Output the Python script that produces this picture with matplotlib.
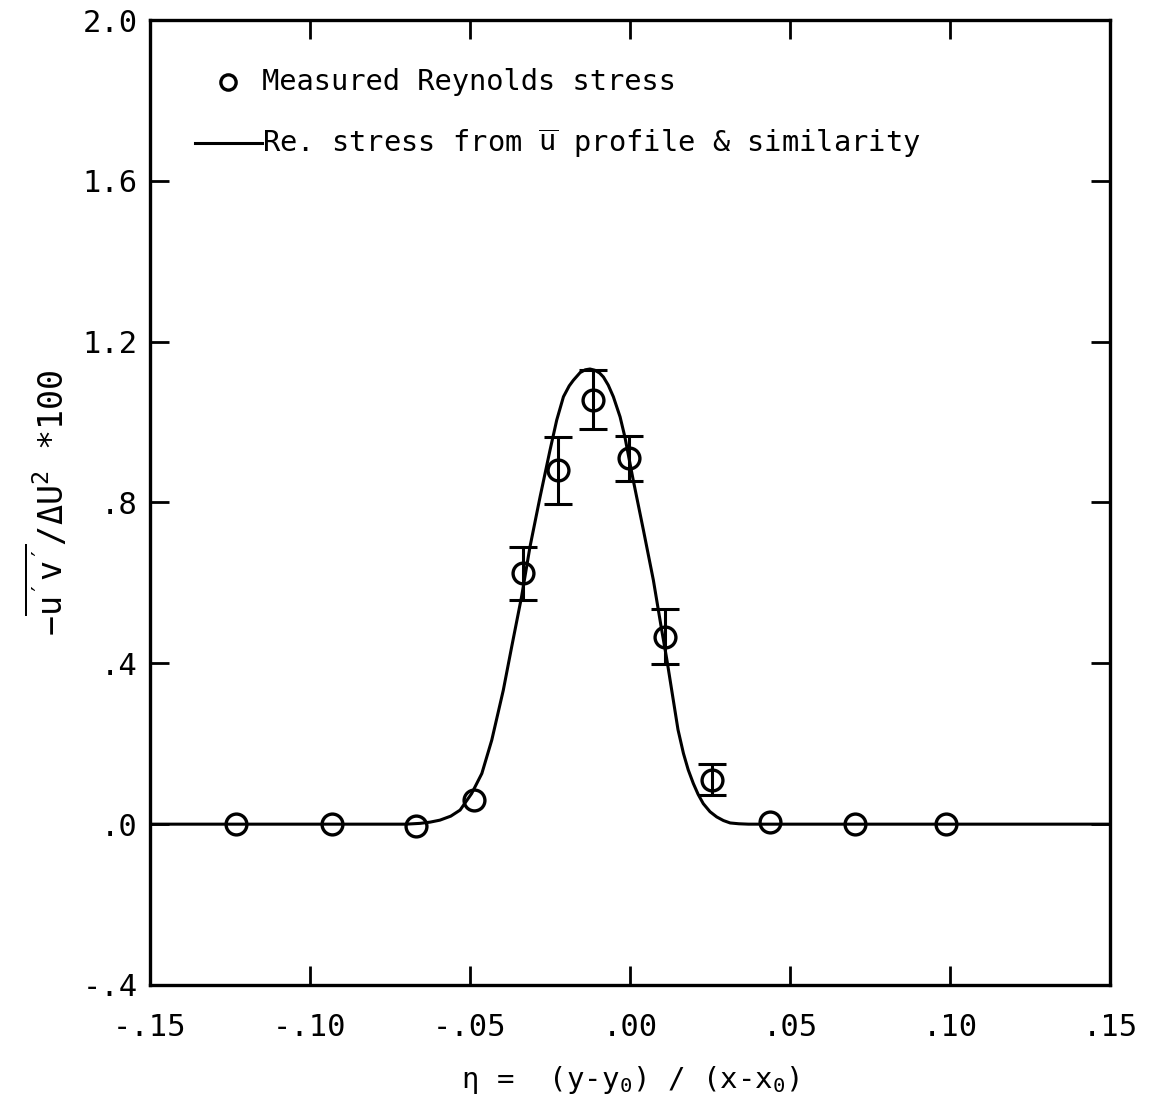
import matplotlib
matplotlib.use("Agg")
import matplotlib.pyplot as plt
from matplotlib.lines import Line2D

plt.rcParams['font.family'] = ['DejaVu Sans Mono']
plt.rcParams['mathtext.fontset'] = 'custom'
plt.rcParams['mathtext.rm'] = 'DejaVu Sans Mono'
plt.rcParams['mathtext.it'] = 'DejaVu Sans Mono'
plt.rcParams['mathtext.tt'] = 'DejaVu Sans Mono'

# measured Reynolds stress
eta_meas = [-0.123, -0.093, -0.067, -0.0488, -0.0335, -0.0225, -0.0115, -0.0002, 0.011, 0.0257, 0.0437, 0.0703, 0.0987]
stress_meas = [0.0, 0.0, -0.005, 0.06, 0.624, 0.88, 1.055, 0.91, 0.466, 0.109, 0.005, 0.0, 0.0]
err_low = [0.0, 0.0, 0.0, 0.0, 0.067, 0.084, 0.073, 0.056, 0.068, 0.037, 0.0, 0.0, 0.0]
err_high = [0.0, 0.0, 0.0, 0.0, 0.066, 0.083, 0.075, 0.056, 0.068, 0.040, 0.0, 0.0, 0.0]
has_err = [False, False, False, False, True, True, True, True, True, True, False, False, False]

# stress from mean-velocity profile & similarity
eta_curve = [-0.150, -0.070, -0.0656, -0.0625, -0.0594, -0.0560, -0.0531, -0.0495, -0.0463, -0.0432,
             -0.0396, -0.0370, -0.0339, -0.03125, -0.0281, -0.0250, -0.0229, -0.0208, -0.0190, -0.0177,
             -0.0156, -0.0140, -0.0125, -0.0110, -0.0095, -0.0083, -0.0068, -0.0052, -0.0031, -0.0016,
             0.0010, 0.0042, 0.0073, 0.0099, 0.0115, 0.0135, 0.0150, 0.0167, 0.0182, 0.0198,
             0.0213, 0.0229, 0.0250, 0.0271, 0.0292, 0.0313, 0.0340, 0.0370, 0.150]
stress_curve = [0.0, 0.0, 0.002, 0.005, 0.010, 0.020, 0.035, 0.076, 0.126, 0.209,
                0.333, 0.44, 0.565, 0.69, 0.814, 0.93, 1.005, 1.063, 1.090, 1.104,
                1.123, 1.130, 1.132, 1.129, 1.122, 1.112, 1.092, 1.063, 1.013, 0.963,
                0.856, 0.731, 0.607, 0.483, 0.41, 0.31, 0.235, 0.176, 0.135, 0.101,
                0.074, 0.051, 0.031, 0.018, 0.009, 0.003, 0.001, 0.0, 0.0]

xticks = [-0.15, -0.10, -0.05, 0.0, 0.05, 0.10, 0.15]
xticklabels = ['-.15', '-.10', '-.05', '.00', '.05', '.10', '.15']
yticks = [-0.4, 0.0, 0.4, 0.8, 1.2, 1.6, 2.0]
yticklabels = ['-.4', '.0', '.4', '.8', '1.2', '1.6', '2.0']

fig = plt.figure(figsize=(11.54, 11.05), dpi=100)
ax = fig.add_axes([150/1154, 120/1105, 960/1154, 965/1105])

ax.plot(eta_curve, stress_curve, color='black', lw=2.2, solid_joinstyle='round')

for x, y, lo, hi, e in zip(eta_meas, stress_meas, err_low, err_high, has_err):
    if e:
        ax.errorbar([x], [y], yerr=[[lo], [hi]], fmt='none', ecolor='black',
                    elinewidth=2.2, capsize=10, capthick=2.2)
ax.plot(eta_meas, stress_meas, linestyle='none', marker='o', markersize=15,
        markerfacecolor='none', markeredgecolor='black', markeredgewidth=2.4)

ax.set_xlim(-0.15, 0.15)
ax.set_ylim(-0.4, 2.0)
ax.set_xticks(xticks)
ax.set_xticklabels(xticklabels)
ax.set_yticks(yticks)
ax.set_yticklabels(yticklabels)
ax.tick_params(direction='in', length=14, width=2, labelsize=22,
               top=True, right=True)
ax.tick_params(axis='x', pad=20)
ax.tick_params(axis='y', pad=9)
for s in ax.spines.values():
    s.set_linewidth(2.4)

ax.set_xlabel(r'$\eta$ =  (y-y$_0$) / (x-x$_0$)', fontsize=21, labelpad=16)
ax.set_ylabel(r"$-\overline{\mathrm{u}^{\prime}\mathrm{v}^{\prime}}/\Delta\mathrm{U}^2$ *100",
              fontsize=24, labelpad=8)

# legend drawn manually
ax.add_line(Line2D([78/960], [1 - 62/965], transform=ax.transAxes, marker='o',
                   markersize=11, markerfacecolor='none', markeredgecolor='black',
                   markeredgewidth=2.4, linestyle='none'))
ax.text(112/960, 1 - 62/965, 'Measured Reynolds stress', transform=ax.transAxes,
        fontsize=20.7, va='center', ha='left')
ax.add_line(Line2D([45/960, 112/960], [1 - 123/965, 1 - 123/965], transform=ax.transAxes,
                   color='black', lw=2.2))
ax.text(112/960, 1 - 123/965, r'Re. stress from $\overline{\mathrm{u}}$ profile & similarity',
        transform=ax.transAxes, fontsize=20.7, va='center', ha='left')

fig.savefig('out.png', dpi=100)
